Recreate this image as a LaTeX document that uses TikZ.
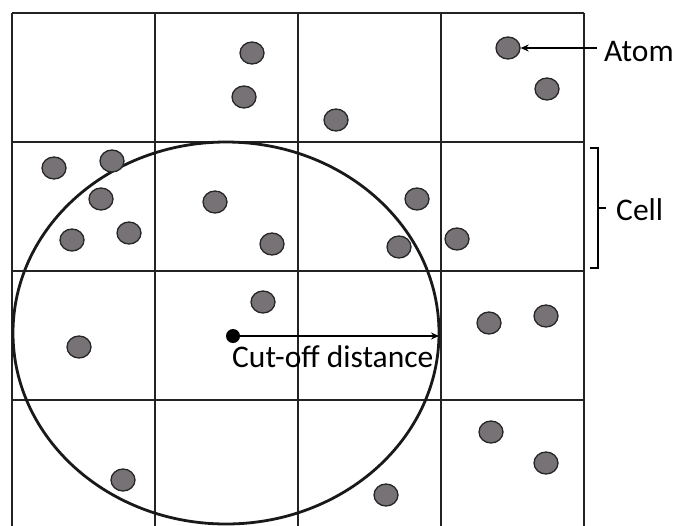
\documentclass[tikz,border=0pt]{standalone}
\usepackage{fontspec}
\setmainfont{Carlito}
\usetikzlibrary{
  arrows.meta,
  shapes.geometric
}
\definecolor{atomfill}{RGB}{118,114,118}
\definecolor{linecolor}{RGB}{35,35,35}
\tikzset{
  gridline/.style={
    draw=linecolor, line width=1.4pt
  },
  cutcircle/.style={
    draw=black!90, line width=2.8pt
  },
  atom/.style={
    ellipse, draw=black!85, line width=1.3pt, fill=atomfill,
    minimum width=24pt, minimum height=22pt, inner sep=0pt
  },
  centerdot/.style={
    circle, fill=black, minimum size=14pt, inner sep=0pt
  },
  lbl/.style={
    font=\fontsize{31.5}{38}\selectfont, inner sep=1pt
  },
  thinarrow/.style={
    -{Stealth[length=8pt,width=7pt]}, line width=1.2pt, draw=black
  },
  bracket/.style={
    draw=black, line width=2pt
  }
}

\begin{document}
\begin{tikzpicture}[x=1pt, y=-1pt]

    \useasboundingbox (0,0) rectangle (676,525);
    \clip (0,0) rectangle (676,525);

    % cell grid
    \foreach \gx in {12,155,298,441,584}
      \draw[gridline] (\gx,13) -- (\gx,530);
    \foreach \gy in {13,142,271,400}
      \draw[gridline] (12,\gy) -- (584,\gy);

    % cut-off sphere
    \draw[cutcircle] (226,333) ellipse [x radius=213pt, y radius=191pt];

    % atoms
    \foreach \ax/\ay [count=\i] in {252/53, 244/97, 336/120, 508/48, 547/89,
        54/168, 112/161, 101/199, 72/240, 129/233, 215/202, 272/244,
        417/199, 399/247, 457/239,
        263/302, 79/347, 489/323, 546/316,
        123/480, 386/495, 491/432, 546/463}
      \node[atom] (a\i) at (\ax,\ay) {};

    \node[centerdot] (ctr) at (233,336) {};
    \coordinate (cutend) at (439,336);
    \draw[thinarrow] (ctr.center) -- (cutend);
    \node[lbl, anchor=base west] (cutlbl) at (231,367) {Cut-off distance};

    \node[lbl, anchor=base west] (atomlbl) at (603,61) {Atom};
    \draw[thinarrow, shorten <=6pt] (a4.east -| atomlbl.west) -- (a4.east);

    \node[lbl, anchor=base west] (celllbl) at (615,220) {Cell};
    \draw[bracket] (590,148) -- (598,148) -- (598,268) -- (590,268);
    \draw[bracket] (598,208) -- (606,208);

  \end{tikzpicture}
\end{document}
